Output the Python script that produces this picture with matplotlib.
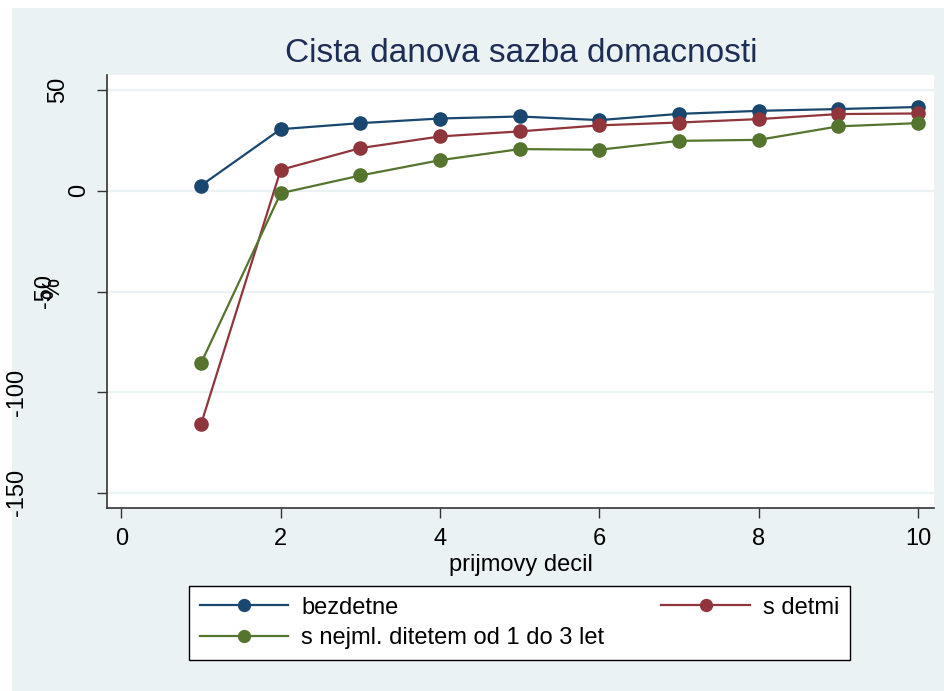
import matplotlib.pyplot as plt
from matplotlib.patches import Rectangle
from matplotlib.transforms import blended_transform_factory

plt.rcParams['font.family'] = ['Liberation Sans', 'DejaVu Sans']

# data
decil = [1, 2, 3, 4, 5, 6, 7, 8, 9, 10]
bezdetne = [2.6, 30.6, 33.6, 35.9, 36.9, 35.1, 38.2, 39.7, 40.6, 41.6]
s_detmi = [-115.9, 10.4, 21.2, 27.0, 29.5, 32.5, 33.9, 35.6, 38.1, 38.4]
s_nejml = [-85.6, -1.2, 7.6, 15.2, 20.7, 20.4, 24.8, 25.3, 32.0, 33.6]

xticks = [0, 2, 4, 6, 8, 10]
yticks = [-150, -100, -50, 0, 50]
# Stata-like staggered placement of the rotated y labels (pixel x centres)
ylab_x = {-150: 17, -100: 17, -50: 45, 0: 79, 50: 58}

bg = '#eaf2f3'
W, H = 945, 691
fig = plt.figure(figsize=(W / 100, H / 100), dpi=100)
fig.patch.set_facecolor('white')
fig.patches.append(Rectangle((12 / W, 0), 1, 683 / H, transform=fig.transFigure,
                             facecolor=bg, edgecolor='none', zorder=-10))

ax = fig.add_axes([107 / W, 1 - 508 / H, (934 - 107) / W, (508 - 75) / H])
ax.set_facecolor('white')

l1, = ax.plot(decil, bezdetne, color='#1a476f', marker='o', ms=9.5, lw=1.6, label='bezdetne', zorder=3)
l2, = ax.plot(decil, s_detmi, color='#90353b', marker='o', ms=9.5, lw=1.6, label='s detmi', zorder=3)
l3, = ax.plot(decil, s_nejml, color='#55752f', marker='o', ms=9.5, lw=1.6,
              label='s nejml. ditetem od 1 do 3 let', zorder=3)

ax.set_xlim(-0.18, 10.2)
ax.set_ylim(-157.5, 57.5)
ax.set_xticks(xticks)
ax.set_yticks(yticks)
ax.set_yticklabels([])
ax.tick_params(axis='both', labelsize=17, length=7.5, width=1, color='#333333', direction='out')
ax.tick_params(axis='x', pad=7)
ax.grid(axis='y', color=bg, lw=1.6)
ax.set_axisbelow(True)
for s in ['top', 'right']:
    ax.spines[s].set_visible(False)
for s in ['left', 'bottom']:
    ax.spines[s].set_color('#333333')
    ax.spines[s].set_linewidth(1.2)

tr = blended_transform_factory(fig.transFigure, ax.transData)
for v in yticks:
    ax.text(ylab_x[v] / W, v, str(v), transform=tr, rotation=90, ha='center', va='center',
            fontsize=17, clip_on=False)
fig.text(53 / W, 1 - 288 / H, '%', rotation=90, ha='center', va='center', fontsize=17)

ax.set_xlabel('prijmovy decil', fontsize=17, labelpad=3)

fig.text(521 / W, 1 - 53 / H, 'Cista danova sazba domacnosti', ha='center', va='center',
         fontsize=24, color='#1e2d55')

leg = fig.legend([l1, l3, l2], [l1.get_label(), l3.get_label(), l2.get_label()],
                 loc='upper left', ncol=2, fontsize=17, mode='expand',
                 bbox_to_anchor=(189 / W, 1 - 661 / H, 661 / W, 75 / H),
                 bbox_transform=fig.transFigure,
                 frameon=True, fancybox=False, edgecolor='black', facecolor='white',
                 framealpha=1, handlelength=3.75, handletextpad=0.55, columnspacing=1.85,
                 borderpad=0.45, labelspacing=0.35, borderaxespad=0, markerscale=0.9)
leg.get_frame().set_linewidth(1)

fig.savefig('out.png', dpi=100, facecolor=fig.get_facecolor())
